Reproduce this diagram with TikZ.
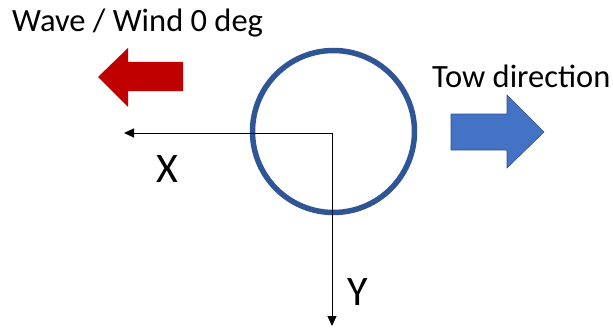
\documentclass[tikz,border=0pt]{standalone}
\usepackage{fontspec}
\setmainfont{Carlito}
\usetikzlibrary{arrows.meta}
\begin{document}
\begin{tikzpicture}[x=1pt,y=-1pt,
  lbl/.style={inner sep=0pt,anchor=base west,font=\fontsize{32.5}{34}\selectfont},
  axlbl/.style={inner sep=0pt,anchor=base west,font=\fontsize{42}{44}\selectfont},
  axis/.style={line width=1pt,-{Triangle[length=10pt,width=9pt]}}]
\useasboundingbox (0,0) rectangle (613,329);
\definecolor{hullblue}{HTML}{2F5597}
\definecolor{wavered}{HTML}{C00000}
\definecolor{towblue}{HTML}{4472C4}
\definecolor{towedge}{HTML}{2F528F}
\node[circle,draw=hullblue,line width=5.5pt,minimum size=162pt,inner sep=0pt] (hull) at (333.5,131.5) {};
\coordinate (o) at (332,133);
\coordinate (xt) at (124,133);
\coordinate (yt) at (332,326);
\draw[axis] (o) -- (xt);
\draw[axis] (o) -- (yt);
\node[axlbl] (xl) at (156,182) {X};
\node[axlbl] (yl) at (347,305) {Y};
\node[lbl] (wl) at (12,32) {Wave / Wind 0 deg};
\node[lbl] (tl) at (432,87) {Tow direction};
\fill[wavered] (98,77) -- (128,48) -- (128,62) -- (183,62) -- (183,91) -- (128,91) -- (128,107) -- cycle;
\filldraw[fill=towblue,draw=towedge,line width=0.6pt] (451,114) -- (507,114) -- (507,95) -- (544,132) -- (507,168) -- (507,150) -- (451,150) -- cycle;
\end{tikzpicture}
\end{document}
